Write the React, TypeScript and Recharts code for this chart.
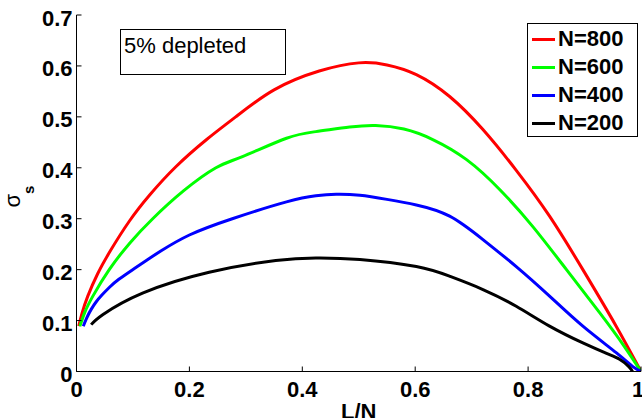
import React from 'react';
import { LineChart, Line, XAxis, YAxis, Legend } from 'recharts';

const FONT = "'Liberation Sans', Arial, Helvetica, sans-serif";

// axis ticks
const xTicks = [0, 0.2, 0.4, 0.6, 0.8, 1];
const xTickLabels = ['0', '0.2', '0.4', '0.6', '0.8', '1'];
const yTicks = [0, 0.1, 0.2, 0.3, 0.4, 0.5, 0.6, 0.7];
const yTickLabels = ['0', '0.1', '0.2', '0.3', '0.4', '0.5', '0.6', '0.7'];

// sigma_s vs L/N
const n800X = [0.004, 0.01, 0.02, 0.0375, 0.06, 0.0935, 0.13, 0.176, 0.23, 0.282, 0.35, 0.43, 0.5, 0.55, 0.602, 0.661, 0.72, 0.779, 0.838, 0.897, 0.956, 1];
const n800Y = [0.089, 0.115, 0.148, 0.192, 0.237, 0.295, 0.347, 0.402, 0.455, 0.5, 0.553, 0.59, 0.606, 0.602, 0.583, 0.54, 0.475, 0.395, 0.305, 0.2, 0.089, 0];

const n600X = [0.006, 0.015, 0.029, 0.058, 0.095, 0.135, 0.19, 0.247, 0.294, 0.372, 0.424, 0.484, 0.53, 0.58, 0.632, 0.691, 0.75, 0.808, 0.868, 0.927, 0.97, 1];
const n600Y = [0.089, 0.117, 0.148, 0.2, 0.253, 0.3, 0.355, 0.4, 0.422, 0.458, 0.471, 0.48, 0.483, 0.476, 0.455, 0.416, 0.357, 0.285, 0.2, 0.115, 0.05, 0];

const n400X = [0.012, 0.018, 0.026, 0.035, 0.045, 0.058, 0.075, 0.0995, 0.125, 0.15, 0.2, 0.276, 0.372, 0.424, 0.46, 0.502, 0.55, 0.602, 0.661, 0.72, 0.779, 0.838, 0.897, 0.956, 0.985, 1];
const n400Y = [0.089, 0.105, 0.122, 0.137, 0.15, 0.165, 0.181, 0.2, 0.219, 0.237, 0.268, 0.3, 0.333, 0.345, 0.348, 0.346, 0.338, 0.327, 0.305, 0.259, 0.206, 0.148, 0.089, 0.037, 0.01, 0];

const n200X = [0.026, 0.047, 0.117, 0.235, 0.353, 0.424, 0.502, 0.602, 0.661, 0.72, 0.779, 0.838, 0.897, 0.94, 0.962, 0.978, 0.985];
const n200Y = [0.092, 0.112, 0.154, 0.195, 0.218, 0.223, 0.22, 0.206, 0.187, 0.161, 0.128, 0.089, 0.056, 0.035, 0.024, 0.01, 0];

const toPoints = (xs: number[], ys: number[]) => xs.map((x, i) => ({ x, y: ys[i] }));

const series = [
  { name: 'N=800', color: '#ff0000', data: toPoints(n800X, n800Y) },
  { name: 'N=600', color: '#00ff00', data: toPoints(n600X, n600Y) },
  { name: 'N=400', color: '#0000ff', data: toPoints(n400X, n400Y) },
  { name: 'N=200', color: '#000000', data: toPoints(n200X, n200Y) },
];

const XTick = (props: any) => {
  const { x, y, index } = props;
  return (
    <text x={x} y={y + 25} textAnchor="middle" fontFamily={FONT} fontSize={22} fontWeight="bold" fill="#000">
      {xTickLabels[index]}
    </text>
  );
};

const YTick = (props: any) => {
  const { x, y, index } = props;
  return (
    <text x={x} y={y + 10.5} textAnchor="end" fontFamily={FONT} fontSize={22} fontWeight="bold" fill="#000">
      {yTickLabels[index]}
    </text>
  );
};

const XLabel = (props: any) => {
  const vb = props.viewBox;
  return (
    <text x={vb.x + vb.width / 2} y={419} textAnchor="middle" fontFamily={FONT} fontSize={22} fontWeight="bold" fill="#000">
      L/N
    </text>
  );
};

const YLabel = () => (
  <text x={19.5} y={207.5} transform="rotate(-90 19.5 207.5)" fontFamily={FONT} fill="#000">
    <tspan fontSize={22}>σ</tspan>
    <tspan fontSize={15} fontWeight="bold" dy={14}>s</tspan>
  </text>
);

const renderLegend = () => (
  <div
    style={{
      boxSizing: 'border-box',
      width: 111,
      height: 114,
      border: '1px solid #000',
      background: '#fff',
      paddingTop: 1,
      fontFamily: FONT,
      fontSize: 22,
      fontWeight: 'bold',
    }}
  >
    {series.map(s => (
      <div key={s.name} style={{ height: 28, lineHeight: '28px', display: 'flex', alignItems: 'center' }}>
        <span style={{ display: 'inline-block', width: 23, height: 3, background: s.color, marginLeft: 4, marginRight: 3 }} />
        <span>{s.name}</span>
      </div>
    ))}
  </div>
);

export default function App() {
  return (
    <div style={{ position: 'absolute', left: 0, top: 0, width: 642, height: 418, background: '#fff' }}>
      <LineChart width={642} height={418} margin={{ top: 15, right: 1, left: 0, bottom: 0 }}>
        <XAxis
          type="number"
          dataKey="x"
          domain={[0, 1]}
          ticks={xTicks}
          height={46.5}
          tickSize={-5}
          tickMargin={5}
          tick={<XTick />}
          stroke="#000"
          allowDataOverflow
          label={<XLabel />}
        />
        <YAxis
          type="number"
          dataKey="y"
          domain={[0, 0.7]}
          ticks={yTicks}
          width={76.5}
          tickSize={-5}
          tickMargin={9}
          tick={<YTick />}
          stroke="#000"
          allowDataOverflow
          label={<YLabel />}
        />
        {series.map(s => (
          <Line
            key={s.name}
            data={s.data}
            dataKey="y"
            name={s.name}
            type="natural"
            stroke={s.color}
            strokeWidth={3}
            dot={false}
            activeDot={false}
            isAnimationActive={false}
          />
        ))}
        <Legend
          layout="vertical"
          align="center"
          verticalAlign="middle"
          content={renderLegend}
          wrapperStyle={{ left: 527, top: 23, width: 111, height: 114 }}
        />
      </LineChart>
      <div
        style={{
          position: 'absolute',
          left: 120,
          top: 29,
          width: 166,
          height: 46,
          boxSizing: 'border-box',
          border: '1px solid #000',
          background: '#fff',
          paddingLeft: 3,
          paddingTop: 5,
          fontFamily: FONT,
          fontSize: 22,
          lineHeight: '22px',
          color: '#000',
        }}
      >
        5% depleted
      </div>
    </div>
  );
}
